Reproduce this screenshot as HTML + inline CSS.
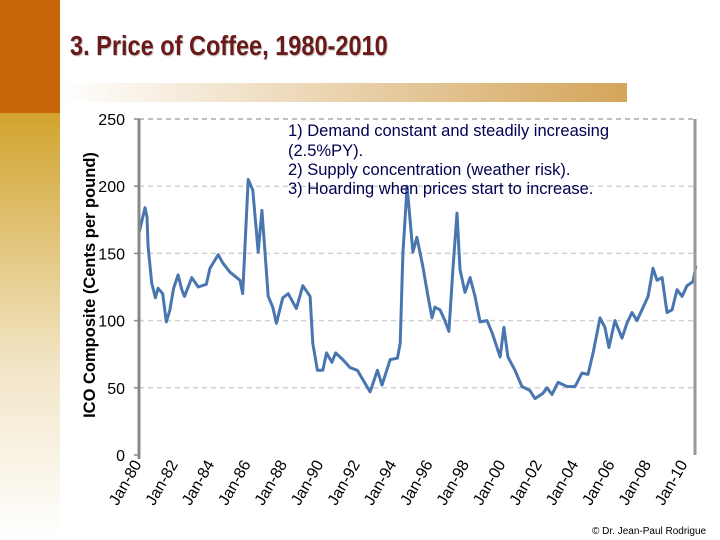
<!DOCTYPE html>
<html><head><meta charset="utf-8"><style>
body{margin:0;width:720px;height:540px;overflow:hidden;background:#fff;font-family:"Liberation Sans",Arial,sans-serif;position:relative}
.abs{position:absolute}
</style></head><body>
<div class="abs" style="left:0;top:0;width:60px;height:113px;background:#C8650A"></div>
<div class="abs" style="left:0;top:113px;width:60px;height:427px;background:linear-gradient(#D2A42E,#F2E6C8 60%,#fff)"></div>
<div class="abs" style="left:60px;top:83px;width:567px;height:19px;background:linear-gradient(90deg,#fff,#D4A55A)"></div>
<div class="abs" style="left:70px;top:30px;font-weight:bold;font-size:28px;color:#6B1A1A;text-shadow:1px 1px 1px #bbb;white-space:nowrap;transform:scaleX(0.84);transform-origin:0 0">3. Price of Coffee, 1980-2010</div>
<svg class="abs" style="left:0;top:0" width="720" height="540">
<g id="grid"></g>
<path id="line" fill="none" stroke="#4A76B0" stroke-width="3" stroke-linejoin="round"/>
<g id="axes"></g>
<text x="0" y="0" transform="translate(95,285) rotate(-90)" text-anchor="middle" font-size="16.5" font-weight="bold" fill="#000">ICO Composite (Cents per pound)</text>
<g font-size="16.5" fill="#000050">
<text x="288" y="136">1) Demand constant and steadily increasing</text>
<text x="288" y="156">(2.5%PY).</text>
<text x="288" y="175">2) Supply concentration (weather risk).</text>
<text x="288" y="194">3) Hoarding when prices start to increase.</text>
</g>
<text x="592" y="534" font-size="10" fill="#000">© Dr. Jean-Paul Rodrigue</text>
</svg>
<script>
const years=[1980.0,1980.33,1980.44,1980.5,1980.7,1980.9,1981.05,1981.3,1981.5,1981.7,1981.9,1982.15,1982.35,1982.5,1982.9,1983.25,1983.7,1983.9,1984.35,1984.6,1985.0,1985.55,1985.7,1986.0,1986.25,1986.55,1986.75,1986.9,1987.1,1987.35,1987.55,1987.9,1988.2,1988.65,1989.0,1989.4,1989.55,1989.8,1990.1,1990.3,1990.6,1990.8,1991.2,1991.6,1992.0,1992.3,1992.7,1993.1,1993.35,1993.8,1994.2,1994.35,1994.5,1994.73,1995.05,1995.27,1995.6,1995.88,1996.1,1996.26,1996.54,1996.81,1997.03,1997.25,1997.47,1997.64,1997.91,1998.19,1998.46,1998.74,1999.12,1999.4,1999.84,2000.05,2000.27,2000.66,2001.04,2001.48,2001.76,2002.2,2002.42,2002.69,2003.02,2003.52,2003.96,2004.34,2004.67,2004.95,2005.33,2005.6,2005.82,2006.15,2006.54,2006.81,2007.09,2007.36,2007.64,2007.97,2008.24,2008.46,2008.74,2009.01,2009.29,2009.56,2009.84,2010.11,2010.44,2010.6];
const prices=[165,184,177,155,128,117,124,120,99,108,124,134,123,118,132,125,127,139,149,143,136,130,120,205,197,151,182,155,118,110,98,117,120,109,126,118,83,63,63,76,69,76,71,65,63,56,47,63,52,71,72,83,150,200,151,162,140,118,102,110,108,100,92,138,180,138,121,132,118,99,100,91,73,95,73,63,51,48,42,46,50,45,54,51,51,61,60,76,102,95,80,100,87,98,106,100,108,118,139,130,132,106,108,123,118,126,129,141];
const yTicks=[0,50,100,150,200,250];
const xLabels=["Jan-80","Jan-82","Jan-84","Jan-86","Jan-88","Jan-90","Jan-92","Jan-94","Jan-96","Jan-98","Jan-00","Jan-02","Jan-04","Jan-06","Jan-08","Jan-10"];
const xLabelYears=[1980,1982,1984,1986,1988,1990,1992,1994,1996,1998,2000,2002,2004,2006,2008,2010];
const NS="http://www.w3.org/2000/svg";
const X=t=>139+(t-1980)*18.2, Y=v=>455-v*1.344;
function el(tag,attrs,parent){const e=document.createElementNS(NS,tag);for(const k in attrs)e.setAttribute(k,attrs[k]);parent.appendChild(e);return e;}
const grid=document.getElementById('grid'),axes=document.getElementById('axes');
yTicks.forEach(v=>{
 if(v>0){const g=el('line',{x1:139,x2:695,y1:Y(v),y2:Y(v),stroke:v==250?'#aaa':'#d0d0d0','stroke-width':1.5,'stroke-dasharray':'5,4'},grid);
 
 }
 const tk=el('line',{x1:134,x2:139,y1:Y(v),y2:Y(v),stroke:'#888','stroke-width':1.5},axes);
 
 
 const t=el('text',{x:125,y:Y(v)+6,'text-anchor':'end','font-size':16},axes);t.textContent=v;
 
 
});
const ya=el('line',{x1:139,x2:139,y1:Y(250),y2:Y(0)+4,stroke:'#888','stroke-width':3},axes);


const rb=el('line',{x1:695,x2:695,y1:Y(250),y2:Y(0),stroke:'#999','stroke-width':3},axes);


xLabels.forEach((s,i)=>{
 const x=X(xLabelYears[i]);
 const t=el('text',{x:0,y:0,transform:`translate(${x+3},${464}) rotate(-60)`,'text-anchor':'end','font-size':16},axes);t.textContent=s;
 
 
});
document.getElementById('line').setAttribute('d',years.map((t,i)=>(i?'L':'M')+X(t).toFixed(1)+','+Y(prices[i]).toFixed(1)).join(''));
</script>
</body></html>
